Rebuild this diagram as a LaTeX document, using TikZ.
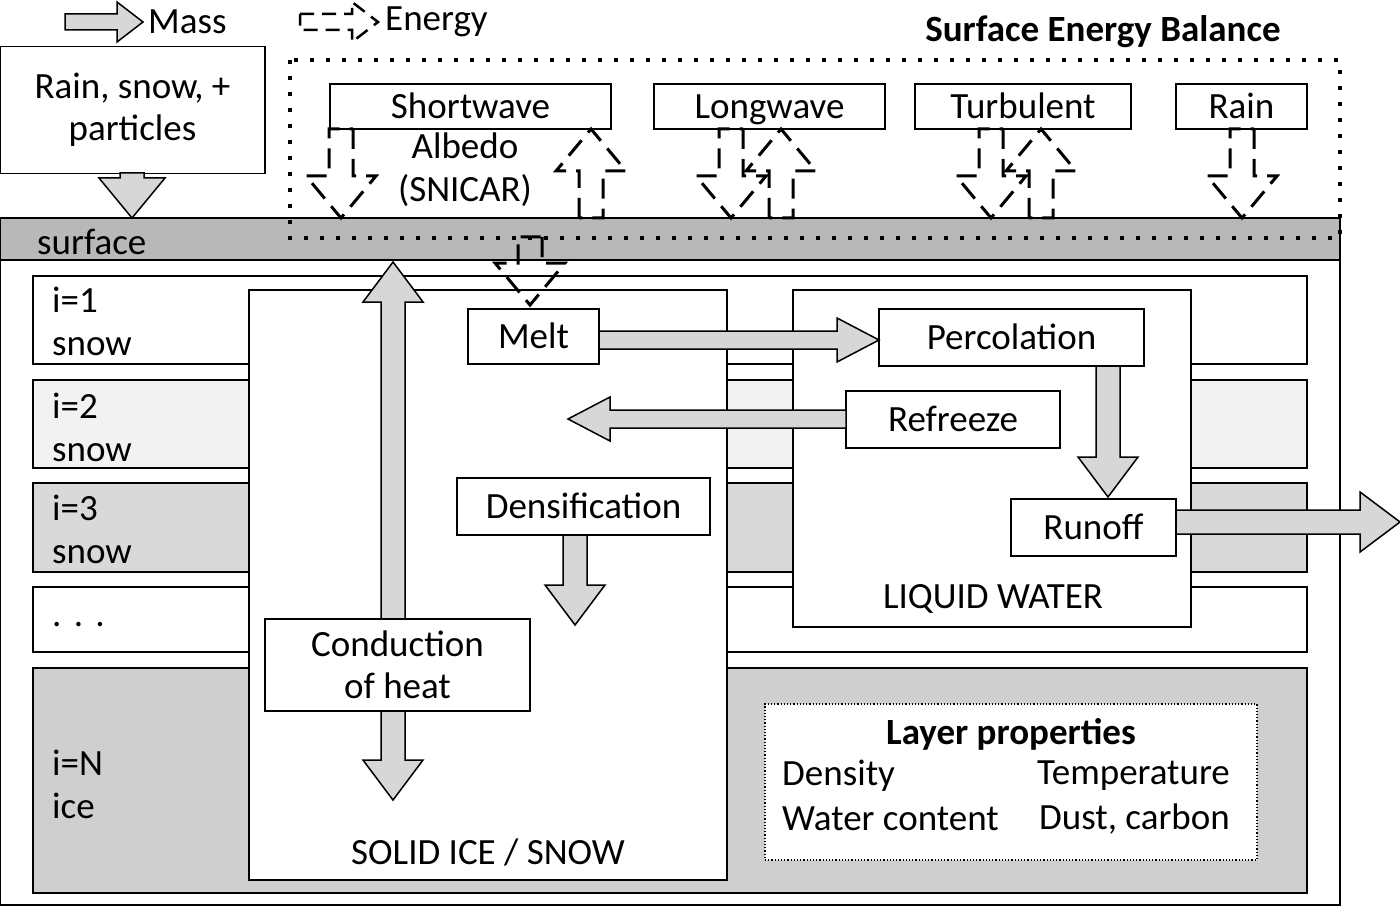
\documentclass[tikz,border=0pt]{standalone}
\usepackage{fontspec}
\setmainfont{Carlito}
\usetikzlibrary{positioning}
\definecolor{bandgrey}{RGB}{184,184,184}
\definecolor{arrgrey}{RGB}{215,215,215}
\newcommand{\sw}{12}
\newcommand{\hw}{33}
\newcommand{\hl}{40}
\newcommand{\blockarrow}[4][]{\begin{scope}[shift={(#2)}, rotate=#4]
        \draw[#1] (0,-\sw) -- (#3-\hl,-\sw) -- (#3-\hl,-\hw) -- (#3,0) -- (#3-\hl,\hw) -- (#3-\hl,\sw) -- (0,\sw) -- cycle;
    \end{scope}}
\tikzset{
    box/.style = {draw, line width=1.5pt, fill=white, inner sep=0pt, text height=29pt, text depth=5pt, font=\fontsize{37}{42}\selectfont},
    txt/.style = {inner sep=0pt, font=\fontsize{37}{43}\selectfont},
    layer/.style = {draw, line width=1.5pt},
    mass/.style = {draw, line width=1.5pt, fill=arrgrey},
    energy/.style = {draw, line width=3pt, dash pattern=on 20pt off 10pt},
}
\begin{document}
\begin{tikzpicture}[x=1pt, y=-1pt]
    \useasboundingbox (0,0) rectangle (1400,912);

    % layers
    \draw[layer] (0,218) rectangle (1340,905);
    \draw[layer, fill=bandgrey] (0,218) rectangle (1340,260);
    \node[txt, anchor=west] (surf) at (37,242) {surface};
    \draw[layer, fill=white] (33,276) rectangle (1307,364);
    \draw[layer, fill=black!5] (33,380) rectangle (1307,468);
    \draw[layer, fill=black!15] (33,483) rectangle (1307,572);
    \draw[layer, fill=white] (33,587) rectangle (1307,652);
    \draw[layer, fill=black!19] (33,668) rectangle (1307,893);
    \node[txt, anchor=west, align=left] (l1) at (52,321) {i=1\\snow};
    \node[txt, anchor=west, align=left] (l2) at (52,427) {i=2\\snow};
    \node[txt, anchor=west, align=left] (l3) at (52,529) {i=3\\snow};
    \node[txt, anchor=west] (ldots) at (52,625) {.\,\,.\,\,.};
    \node[txt, anchor=west, align=left] (lN) at (52,784) {i=N\\ice};

    % process boxes
    \draw[layer, fill=white] (249,290) rectangle (727,880);
    \node[txt] (solid) at (488,852) {SOLID ICE / SNOW};
    \draw[layer, fill=white] (793,290) rectangle (1191,627);
    \node[txt] (liquid) at (993,599) {LIQUID WATER};

    % top
    \node[box, minimum width=265pt, minimum height=127pt, align=center, text height=, text depth=] (precip) at (132.5,110) {Rain, snow, +\\particles};
    \blockarrow[mass]{132,173}{45}{-90}
    \renewcommand{\sw}{8}\renewcommand{\hw}{20}\renewcommand{\hl}{26}
    \blockarrow[mass]{65,22}{78}{0}
    \node[txt, anchor=west] (masslab) at (148,22) {Mass};
    \blockarrow[energy, line width=2.5pt, dash pattern=on 14pt off 8pt]{300,22}{78}{0}
    \node[txt, anchor=west] (enlab) at (385,22) {Energy};
    \node[txt, font=\fontsize{37}{43}\selectfont\bfseries] (seb) at (1103,32) {Surface Energy Balance};
    \draw[line width=4pt, dash pattern=on 4pt off 12pt] (290,60) rectangle (1340,238);

    \node[box, minimum width=281pt, minimum height=45pt] (swave) at (470.5,106.5) {Shortwave};
    \node[box, minimum width=231pt, minimum height=45pt] (lwave) at (769.5,106.5) {Longwave};
    \node[box, minimum width=216pt, minimum height=45pt] (turb) at (1023,106.5) {Turbulent};
    \node[box, minimum width=131pt, minimum height=45pt] (rain) at (1241.5,106.5) {Rain};
    \node[txt, align=center] (albedo) at (465,170) {Albedo\\(SNICAR)};

    \renewcommand{\sw}{12}\renewcommand{\hw}{35}\renewcommand{\hl}{42}
    \blockarrow[energy]{341,129}{89}{-90}
    \blockarrow[energy]{591,218}{89}{90}
    \blockarrow[energy]{731,129}{89}{-90}
    \blockarrow[energy]{781,218}{89}{90}
    \blockarrow[energy]{991,129}{89}{-90}
    \blockarrow[energy]{1041,218}{89}{90}
    \blockarrow[energy]{1242,129}{89}{-90}

    % heat conduction
    \draw[mass] (393,262) -- (423,302) -- (405,302) -- (405,760) -- (423,760) -- (393,800)
        -- (363,760) -- (381,760) -- (381,302) -- (363,302) -- cycle;

    % processes
    \node[box, minimum width=131pt, minimum height=55pt] (melt) at (533.5,336.5) {Melt};
    \node[box, minimum width=265pt, minimum height=57pt] (perc) at (1011.5,337.5) {Percolation};
    \node[box, minimum width=214pt, minimum height=57pt] (refr) at (953,419.5) {Refreeze};
    \node[box, minimum width=253pt, minimum height=57pt] (dens) at (583.5,506.5) {Densification};
    \node[box, minimum width=165pt, minimum height=57pt] (runoff) at (1093.5,527.5) {Runoff};
    \node[box, minimum width=265pt, minimum height=92pt, align=center, text height=, text depth=] (cond) at (397.5,665) {Conduction\\of heat};
    \node[draw, line width=1.2pt, dotted, fill=white, minimum width=492pt, minimum height=156pt] (props) at (1011,782) {};
    \node[txt, font=\fontsize{37}{43}\selectfont\bfseries] (ptitle) at (1011,734) {Layer properties};
    \node[txt, anchor=west] (pd) at (782,776) {Density};
    \node[txt, anchor=east] (pt) at (1230,776) {Temperature};
    \node[txt, anchor=west] (pw) at (782,819) {Water content};
    \node[txt, anchor=east] (pc) at (1230,819) {Dust, carbon};

    % arrows
    \blockarrow[energy]{530,237}{68}{-90}
    \renewcommand{\sw}{12}\renewcommand{\hw}{30}\renewcommand{\hl}{40}
    \blockarrow[mass]{575,535}{90}{-90}
    \blockarrow[mass]{1108,366}{131}{-90}
    \blockarrow[mass]{1176,522}{224}{0}
    \renewcommand{\sw}{9}\renewcommand{\hw}{22}\renewcommand{\hl}{42}
    \blockarrow[mass]{599,340}{280}{0}
    \blockarrow[mass]{846,419}{278}{180}
\end{tikzpicture}
\end{document}
